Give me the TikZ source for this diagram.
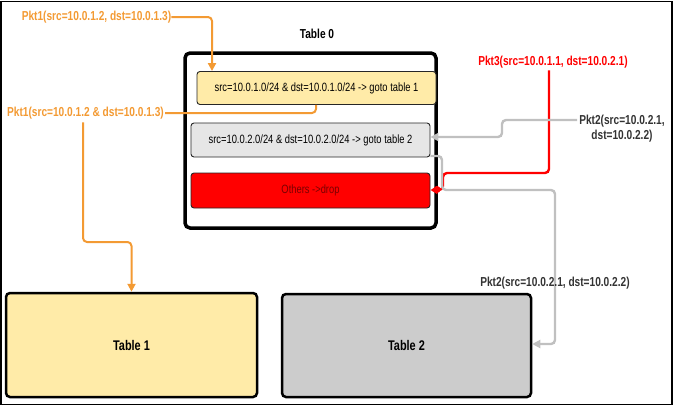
\documentclass[tikz,border=0pt]{standalone}
\usepackage{fontspec}
\setmainfont{Liberation Sans}
\newfontfamily\nf[FakeStretch=0.78]{Liberation Sans}
\usetikzlibrary{arrows.meta,calc}
\definecolor{orng}{HTML}{F39A33}
\definecolor{rline}{HTML}{FF0000}
\definecolor{gline}{HTML}{C0C0C0}
\definecolor{gtext}{HTML}{333333}
\definecolor{ylw}{HTML}{FFEBA8}
\definecolor{lgray}{HTML}{E6E6E6}
\definecolor{mgray}{HTML}{CCCCCC}
\definecolor{dred}{HTML}{7A0000}
\begin{document}
\begin{tikzpicture}[x=1pt,y=-1pt,
  lbl/.style={inner sep=0pt,font=\nf\bfseries\fontsize{13}{15}\selectfont},
  rowbox/.style={draw=black!85,line width=0.9pt,rounded corners=3pt,minimum width=239pt,inner sep=0pt,font=\nf\fontsize{12}{14}\selectfont},
  tablebox/.style={draw=black,line width=2.5pt,rounded corners=4pt,inner sep=0pt,font=\nf\bfseries\fontsize{14}{16}\selectfont},
  oline/.style={draw=orng,line width=2pt,rounded corners=4pt},
  oarrow/.style={oline,-{Triangle[length=8pt,width=8pt]}},
  gline/.style={draw=gline,line width=2.4pt,rounded corners=4pt},
  garrow/.style={gline,-{Triangle[length=8pt,width=8pt]}},
  rarrow/.style={draw=rline,line width=2.4pt,rounded corners=4pt,-{Triangle[length=7pt,width=8pt]}}]
\useasboundingbox (0,0) rectangle (675,407);
\draw[line width=1.5pt] (0.75,1.5) rectangle (672,404.5);

% Table 0
\node[draw=black,line width=3.5pt,rounded corners=5pt,minimum width=251pt,minimum height=175pt,inner sep=0pt] (t0) at (310.5,140.5) {};
\node[lbl] (t0l) at (317,34) {Table 0};
\node[rowbox,fill=ylw,minimum height=33pt] (r1) at (316.5,88) {src=10.0.1.0/24 \& dst=10.0.1.0/24 -> goto table 1};
\node[rowbox,fill=lgray,minimum height=34pt] (r2) at (310.5,140) {src=10.0.2.0/24 \& dst=10.0.2.0/24 -> goto table 2};
\node[rowbox,fill=rline,minimum height=35pt,text=dred] (r3) at (310.5,190.5) {Others ->drop};

% Tables 1 and 2
\node[tablebox,fill=ylw,minimum width=251pt,minimum height=104pt] (t1) at (131.5,345) {Table 1};
\node[tablebox,fill=mgray,minimum width=249pt,minimum height=103pt] (t2) at (406.5,345.5) {Table 2};

% labels
\node[lbl,text=orng] (p1a) at (96.5,17) {Pkt1(src=10.0.1.2, dst=10.0.1.3)};
\node[lbl,text=orng] (p1b) at (85.5,113) {Pkt1(src=10.0.1.2 \& dst=10.0.1.3)};
\node[lbl,text=rline] (p3) at (553,62) {Pkt3(src=10.0.1.1, dst=10.0.2.1)};
\node[lbl,text=gtext,align=center] (p2a) at (622,129) {Pkt2(src=10.0.2.1,\\dst=10.0.2.2)};

% orange paths
\coordinate (o1) at (212,0);
\draw[oarrow] (p1a.east) -| (o1 |- r1.north);
\coordinate (o2) at (316,0);
\draw[oline] (o2 |- r1.south) |- ([xshift=1pt]p1b.east);
\coordinate (o3) at (83,242);
\draw[oarrow] ([yshift=-3pt]p1b.south -| o3) -- (o3) -| (t1.north);

% red path
\coordinate (rr1) at (549,0);
\coordinate (rr2) at (443,173);
\coordinate (rr3) at (443,190);
\draw[rarrow] ([yshift=-2pt]p3.south -| rr1) |- (rr2) -- (rr3) -- (rr3 -| r3.east);

% gray path 1
\coordinate (g1) at (502,137);
\draw[garrow] ([xshift=-2pt,yshift=9pt]p2a.west) -| (g1) -- (g1 -| r2.east);

% gray path 2
\coordinate (g2a) at (442,156);
\coordinate (g2b) at (555,190);
\coordinate (g2c) at (555,344);
\draw[garrow] (g2a -| r2.east) -- (g2a) |- (g2b) -- (g2c) -- (g2c -| t2.east);

\fill[rline] (437,189.5) circle (3.5pt);

\node[lbl,text=gtext] (p2b) at (555,283) {Pkt2(src=10.0.2.1, dst=10.0.2.2)};
\end{tikzpicture}
\end{document}
